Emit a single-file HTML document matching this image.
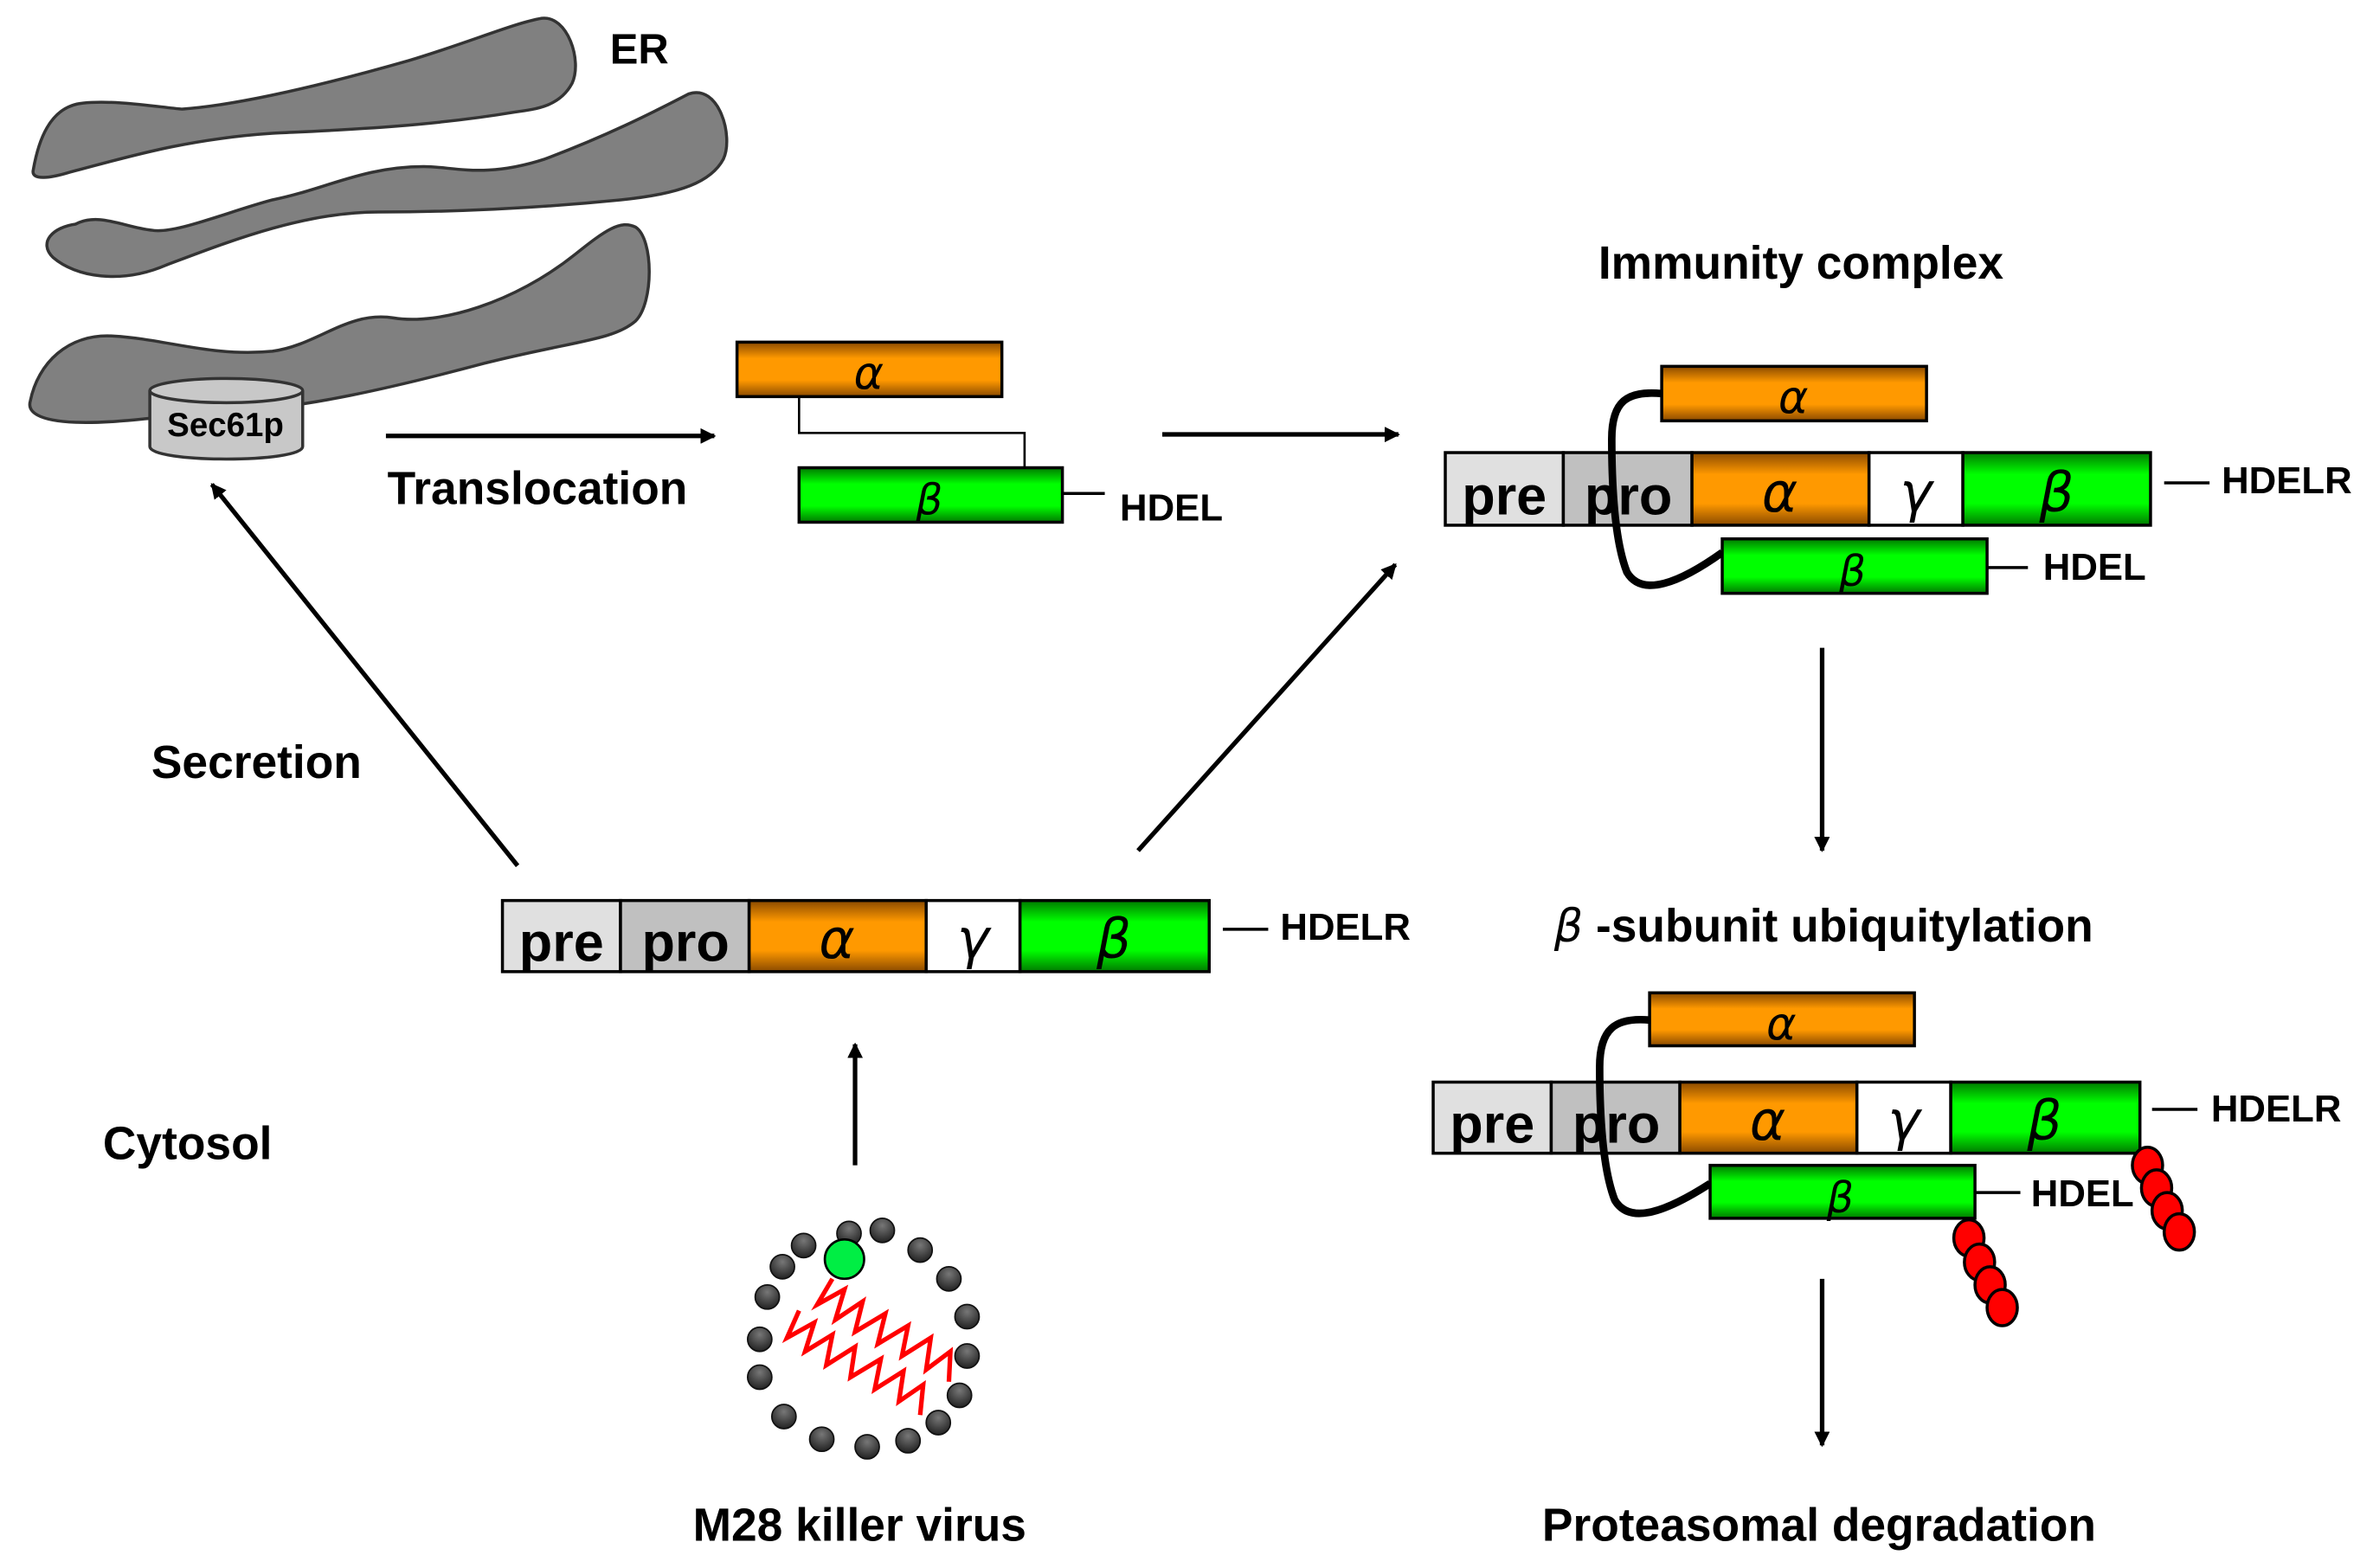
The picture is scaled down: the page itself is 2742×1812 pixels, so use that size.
<!DOCTYPE html>
<html><head><meta charset="utf-8"><style>
html,body{margin:0;padding:0;background:#fff;}
svg{display:block;}
text{font-family:"Liberation Sans",sans-serif;font-weight:bold;fill:#000;}
.g{font-family:"DejaVu Sans","Liberation Sans",sans-serif;font-style:italic;font-weight:normal;}
</style></head><body>
<svg width="2742" height="1812" viewBox="0 0 1568 1036" xmlns="http://www.w3.org/2000/svg">
<defs>
<linearGradient id="or" x1="0" y1="0" x2="0" y2="1">
<stop offset="0" stop-color="#8a4a00"/><stop offset="0.3" stop-color="#ff9900"/><stop offset="0.7" stop-color="#ff9900"/><stop offset="1" stop-color="#8a4a00"/></linearGradient>
<linearGradient id="gr" x1="0" y1="0" x2="0" y2="1">
<stop offset="0" stop-color="#007a00"/><stop offset="0.3" stop-color="#00ff00"/><stop offset="0.7" stop-color="#00ff00"/><stop offset="1" stop-color="#007a00"/></linearGradient>
<radialGradient id="dk" cx="0.5" cy="0.3" r="0.7"><stop offset="0" stop-color="#777"/><stop offset="1" stop-color="#222"/></radialGradient>
<marker id="ah" markerWidth="10" markerHeight="10" refX="9" refY="5" orient="auto" markerUnits="userSpaceOnUse"><path d="M0,0 L10,5 L0,10 Z" fill="#000" transform="scale(1.2) translate(-1.5,-0.8)"/></marker>
</defs>

<g fill="#808080" stroke="#333" stroke-width="2">
<path d="M22,112 C25,95 32,70 55,68 C75,66 100,70 120,72 C150,70 200,60 270,40 C310,28 340,15 358,12 C375,10 385,40 378,55 C370,70 355,72 340,74 C280,84 220,86 180,88 C120,92 80,105 45,114 C35,117 20,120 22,112 Z"/>
<path d="M50,148 C65,140 82,150 100,152 C115,155 150,140 180,132 C215,125 240,110 280,110 C300,110 320,118 360,105 C400,90 430,75 455,62 C475,55 485,90 478,105 C470,120 450,128 410,132 C350,138 300,140 250,140 C200,140 150,160 110,175 C80,188 50,183 35,170 C25,160 35,150 50,148 Z"/>
<path d="M20,265 C25,240 45,220 75,222 C110,224 140,236 180,232 C210,228 230,205 260,210 C290,215 340,200 380,168 C400,152 410,145 420,150 C432,158 432,200 420,212 C405,225 380,225 320,240 C260,256 200,270 150,272 C110,274 80,280 50,279 C25,278 18,272 20,265 Z"/>
</g>
<text x="403" y="42" font-size="28">ER</text>
<g stroke="#333" stroke-width="2" fill="#c8c8c8">
<path d="M99,258 L99,295 C99,306 200,306 200,295 L200,258"/>
<ellipse cx="149.5" cy="258" rx="50.5" ry="8"/>
</g>
<text x="149" y="288" font-size="22" text-anchor="middle">Sec61p</text>

<g stroke="#000" stroke-width="3" fill="none" marker-end="url(#ah)">
<line x1="255" y1="288" x2="472" y2="288"/>
<line x1="768" y1="287" x2="924" y2="287"/>
<line x1="1204" y1="428" x2="1204" y2="562"/>
<line x1="1204" y1="845" x2="1204" y2="955"/>
<line x1="565" y1="770" x2="565" y2="690"/>
<line x1="342" y1="572" x2="140" y2="320"/>
<line x1="752" y1="562" x2="922" y2="373"/>
</g>
<text x="256" y="333" font-size="30.5">Translocation</text>
<text x="100" y="514" font-size="30.5">Secretion</text>
<text x="68" y="766" font-size="30.5">Cytosol</text>
<text x="568" y="1018" font-size="30.5" text-anchor="middle">M28 killer virus</text>
<text x="1190" y="184" font-size="30.5" text-anchor="middle">Immunity complex</text>
<text x="1205" y="622" font-size="30.5" text-anchor="middle"><tspan class="g" font-size="30">β</tspan> -subunit ubiquitylation</text>
<text x="1202" y="1018" font-size="30.5" text-anchor="middle">Proteasomal degradation</text>

<path d="M528,262 L528,286 L677,286 L677,309" stroke="#000" stroke-width="1.5" fill="none"/>
<rect x="487" y="226" width="175" height="36" fill="url(#or)" stroke="#000" stroke-width="2"/>
<text class="g" x="574" y="257" font-size="30" text-anchor="middle">α</text>
<rect x="528" y="309" width="174" height="36" fill="url(#gr)" stroke="#000" stroke-width="2"/>
<text class="g" x="614" y="340" font-size="28" text-anchor="middle">β</text>
<line x1="702" y1="326" x2="730" y2="326" stroke="#000" stroke-width="2"/>
<text x="740" y="344" font-size="25">HDEL</text>

<g stroke="#000" stroke-width="2">
<rect x="332" y="595" width="78" height="47" fill="#e0e0e0"/>
<rect x="410" y="595" width="85" height="47" fill="#c0c0c0"/>
<rect x="495" y="595" width="117" height="47" fill="url(#or)"/>
<rect x="612" y="595" width="62" height="47" fill="#fff"/>
<rect x="674" y="595" width="125" height="47" fill="url(#gr)"/>
<line x1="808" y1="614" x2="838" y2="614"/>
</g>
<text x="371" y="635" font-size="36" text-anchor="middle">pre</text>
<text x="453" y="635" font-size="36" text-anchor="middle">pro</text>
<text class="g" x="553" y="633" font-size="36" text-anchor="middle">α</text>
<text class="g" x="643" y="633" font-size="36" text-anchor="middle">γ</text>
<text class="g" x="736" y="633" font-size="36" text-anchor="middle">β</text>
<text x="846" y="621" font-size="25">HDELR</text>

<g stroke="#000" stroke-width="2">
<rect x="955" y="299" width="78" height="48" fill="#e0e0e0"/>
<rect x="1033" y="299" width="85" height="48" fill="#c0c0c0"/>
<rect x="1118" y="299" width="117" height="48" fill="url(#or)"/>
<rect x="1235" y="299" width="62" height="48" fill="#fff"/>
<rect x="1297" y="299" width="124" height="48" fill="url(#gr)"/>
<line x1="1430" y1="319" x2="1460" y2="319"/>
<line x1="1313" y1="375" x2="1340" y2="375"/>
</g>
<text x="994" y="340" font-size="36" text-anchor="middle">pre</text>
<text x="1076" y="340" font-size="36" text-anchor="middle">pro</text>
<text class="g" x="1176" y="338" font-size="36" text-anchor="middle">α</text>
<text class="g" x="1266" y="338" font-size="36" text-anchor="middle">γ</text>
<text class="g" x="1359" y="338" font-size="36" text-anchor="middle">β</text>
<path d="M1098,260 C1075,258 1065,265 1065,290 C1065,330 1068,360 1075,378 C1085,395 1110,385 1138,365" stroke="#000" stroke-width="5" fill="none"/>
<rect x="1098" y="242" width="175" height="36" fill="url(#or)" stroke="#000" stroke-width="2"/>
<text class="g" x="1185" y="273" font-size="30" text-anchor="middle">α</text>
<rect x="1138" y="356" width="175" height="36" fill="url(#gr)" stroke="#000" stroke-width="2"/>
<text class="g" x="1224" y="387" font-size="28" text-anchor="middle">β</text>
<text x="1468" y="326" font-size="25">HDELR</text>
<text x="1350" y="383" font-size="25">HDEL</text>

<g stroke="#000" stroke-width="2">
<rect x="947" y="715" width="78" height="47" fill="#e0e0e0"/>
<rect x="1025" y="715" width="85" height="47" fill="#c0c0c0"/>
<rect x="1110" y="715" width="117" height="47" fill="url(#or)"/>
<rect x="1227" y="715" width="62" height="47" fill="#fff"/>
<rect x="1289" y="715" width="125" height="47" fill="url(#gr)"/>
<line x1="1422" y1="733" x2="1452" y2="733"/>
<line x1="1305" y1="788" x2="1335" y2="788"/>
</g>
<text x="986" y="755" font-size="36" text-anchor="middle">pre</text>
<text x="1068" y="755" font-size="36" text-anchor="middle">pro</text>
<text class="g" x="1168" y="753" font-size="36" text-anchor="middle">α</text>
<text class="g" x="1258" y="753" font-size="36" text-anchor="middle">γ</text>
<text class="g" x="1351" y="753" font-size="36" text-anchor="middle">β</text>
<path d="M1090,674 C1067,672 1057,680 1057,705 C1057,745 1060,775 1067,793 C1077,810 1102,800 1130,782" stroke="#000" stroke-width="5" fill="none"/>
<rect x="1090" y="656" width="175" height="35" fill="url(#or)" stroke="#000" stroke-width="2"/>
<text class="g" x="1177" y="687" font-size="30" text-anchor="middle">α</text>
<rect x="1130" y="770" width="175" height="35" fill="url(#gr)" stroke="#000" stroke-width="2"/>
<text class="g" x="1216" y="801" font-size="28" text-anchor="middle">β</text>
<text x="1461" y="741" font-size="25">HDELR</text>
<text x="1342" y="797" font-size="25">HDEL</text>
<g fill="#ff0000" stroke="#000" stroke-width="2">
<ellipse cx="1419" cy="770" rx="10" ry="12"/>
<ellipse cx="1425" cy="785" rx="10" ry="12"/>
<ellipse cx="1432" cy="800" rx="10" ry="12"/>
<ellipse cx="1440" cy="814" rx="10" ry="12"/>
<ellipse cx="1301" cy="818" rx="10" ry="12"/>
<ellipse cx="1308" cy="834" rx="10" ry="12"/>
<ellipse cx="1315" cy="849" rx="10" ry="12"/>
<ellipse cx="1323" cy="864" rx="10" ry="12"/>
</g>

<g fill="url(#dk)" stroke="#111" stroke-width="1">
<circle cx="561" cy="815" r="8"/><circle cx="583" cy="813" r="8"/>
<circle cx="531" cy="823" r="8"/><circle cx="608" cy="826" r="8"/>
<circle cx="517" cy="837" r="8"/><circle cx="627" cy="845" r="8"/>
<circle cx="507" cy="857" r="8"/><circle cx="639" cy="870" r="8"/>
<circle cx="502" cy="885" r="8"/><circle cx="639" cy="896" r="8"/>
<circle cx="502" cy="910" r="8"/><circle cx="634" cy="922" r="8"/>
<circle cx="518" cy="936" r="8"/><circle cx="620" cy="940" r="8"/>
<circle cx="543" cy="951" r="8"/><circle cx="573" cy="956" r="8"/>
<circle cx="600" cy="952" r="8"/>
</g>
<g stroke="#ff0000" stroke-width="3" fill="none">
<path d="M550,845 L540,862 L558,852 L552,872 L570,860 L565,880 L585,868 L580,888 L600,876 L596,896 L615,884 L612,905 L628,893 L627,913"/>
<path d="M528,866 L520,884 L538,874 L532,893 L550,882 L546,902 L565,890 L562,910 L582,898 L578,918 L597,906 L594,926 L610,915 L608,935"/>
</g>
<circle cx="558" cy="832" r="13" fill="#00ee44" stroke="#000" stroke-width="1.5"/>
</svg>
</body></html>
